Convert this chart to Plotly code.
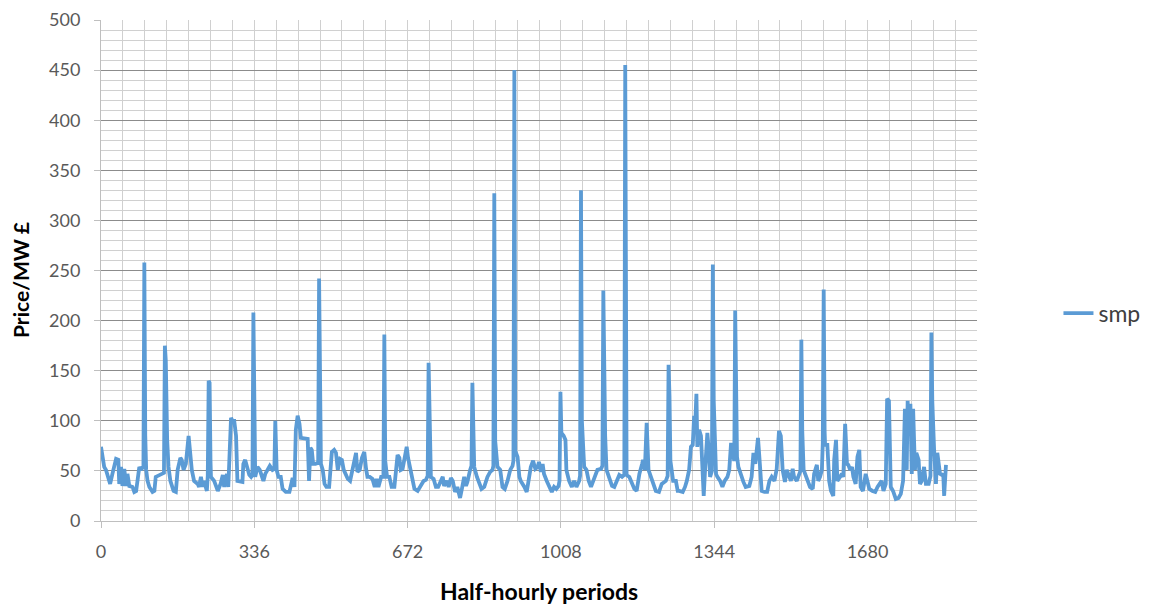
import plotly.graph_objects as go

# Half-hourly period index (breakpoints)
periods = [0,4,7,11,16,20,25,29,33,38,40,44,47,51,55,58,62,69,73,77,80,84,88,91,93,95,97,99,102,106,113,117,120,128,135,138,140,142,145,148,152,159,164,168,174,177,181,186,192,195,199,204,212,215,219,223,226,232,234,236,238,240,241,248,252,256,262,267,270,276,279,282,285,288,292,296,299,310,
312,316,321,325,329,332,334,336,338,343,348,353,356,360,365,370,376,380,382,384,385,389,394,398,405,413,416,420,424,427,431,435,438,446,453,456,459,462,465,470,476,478,480,482,486,490,494,500,506,511,515,519,524,528,532,537,541,546,551,555,559,562,567,572,577,581,584,589,595,600,604,608,614,619,621,623,627,632,637,643,646,650,654,657,661,666,670,673,678,683,687,694,701,707,712,716,718,720,723,729,734,739,744,749,752,758,762,767,771,776,781,787,791,796,800,803,809,812,814,816,818,824,829,834,840,847,853,858,860,862,864,869,875,880,885,891,897,902,904,906,908,913,917,920,928,933,936,942,946,947,952,957,960,964,968,971,977,982,988,993,998,1003,1005,1007,1009,1014,1018,1020,1026,1032,1037,1042,1048,1050,1052,1054,1059,1064,1069,1074,1081,1088,1096,1099,1101,1103,1105,1108,1114,1120,1125,1130,1136,1142,1147,1149,1151,1152,1158,1164,1169,1174,1180,1186,1188,1192,1196,1200,1205,1210,1216,1223,1229,1238,1242,1244,1246,1248,1254,1260,1264,1267,1275,1280,1284,1289,1293,1297,1300,1302,1305,1307,1311,1315,1318,1321,1324,1327,1329,1332,1335,1339,1341,1343,1346,1348,1351,1357,1362,1367,1373,1377,1381,1384,1388,1390,1392,1394,1397,1403,1408,1413,1421,1426,1430,1434,1438,1440,1445,1448,1454,1460,1465,1470,1476,1481,1486,1490,1494,1499,1503,1508,1512,1516,1519,1525,1530,1533,1535,1537,1540,1545,1550,1554,1560,1563,1569,1572,1576,1580,1582,1584,1586,1587,1592,1596,1600,1605,1607,1611,1614,1619,1624,1627,1631,1635,1638,1642,1646,1649,1654,1658,1662,1665,1670,1676,1680,1684,1691,1697,1702,1707,1711,1715,1720,1723,1727,1731,1736,1742,1748,1753,1758,1762,1766,1768,1771,1774,1777,1780,1784,1787,1792,1795,1799,1804,1808,1814,1818,1820,1822,1826,1830,1833,1839,1843,1846,1848,1850,1852]

# System marginal price (£/MW)
smp = [74,61,54,51,44,37,47,54,62,61,37,54,35,52,35,47,35,34,29,30,44,54,51,54,52,258,85,51,40,34,29,30,44,46,47,48,175,160,81,54,40,30,29,51,63,61,51,57,85,71,51,40,37,34,44,34,40,30,45,140,138,60,44,40,34,30,37,46,34,47,34,61,103,100,100,85,40,39,
57,61,51,46,44,46,208,60,44,54,51,44,40,47,52,55,51,52,100,60,51,44,44,32,29,29,34,43,34,91,105,97,83,82,82,40,73,71,57,57,58,242,90,57,51,37,34,34,69,71,68,51,62,61,51,47,42,40,51,63,68,49,51,63,69,52,44,44,42,34,42,34,44,44,186,60,44,44,34,34,51,66,63,51,52,63,74,63,51,40,32,30,35,40,41,45,158,110,44,42,34,34,39,44,35,40,34,43,40,29,34,23,32,44,35,39,51,55,138,90,54,44,37,32,34,44,49,51,55,327,80,54,51,34,32,40,51,55,60,450,70,64,44,40,34,29,37,54,59,60,52,54,59,49,57,47,40,34,29,34,32,35,40,129,88,85,81,51,40,34,40,34,40,45,330,100,54,51,40,34,44,51,52,55,230,120,85,51,44,35,34,40,46,44,46,455,90,46,44,37,32,30,47,57,61,51,98,51,44,37,30,29,37,40,45,156,125,60,40,40,30,30,29,34,40,51,74,76,105,91,127,74,91,85,44,25,51,71,88,71,44,50,256,120,68,47,44,40,34,40,44,51,78,71,60,210,100,64,54,44,39,34,35,44,68,57,81,83,51,30,29,29,40,44,40,52,90,85,51,39,51,44,40,52,44,40,47,50,181,90,51,44,40,34,32,47,56,40,44,51,78,231,90,76,76,40,30,25,61,81,40,44,47,44,97,57,56,51,54,44,37,64,71,34,30,47,37,32,30,29,34,37,40,30,37,122,120,34,30,22,23,27,40,112,51,120,85,117,47,112,51,68,61,37,40,54,37,37,45,188,120,71,37,68,47,46,47,25,54,56]

x_ticks = [0, 336, 672, 1008, 1344, 1680]
series_name = "smp"
y_title = "Price/MW £"
x_title = "Half-hourly periods"

fig = go.Figure()
fig.add_trace(go.Scatter(
    x=periods, y=smp, mode="lines", name=series_name,
    line=dict(color="#5B9BD5", width=3.8, shape="linear"),
    showlegend=True,
))

font_family = "Lato, Carlito, Calibri, sans-serif"

# The page body adds an 8px offset, so the figure is 8px smaller and margins shifted.
fig.update_layout(
    width=1145, height=599,
    margin=dict(l=93, r=176, t=12, b=86, autoexpand=False),
    paper_bgcolor="white", plot_bgcolor="white",
    font=dict(family=font_family, color="#595959", size=18),
    showlegend=True,
    legend=dict(x=1.093, y=0.415, xanchor="left", yanchor="middle",
                font=dict(size=23, color="#404040"), bgcolor="rgba(0,0,0,0)"),
    xaxis=dict(
        range=[0, 1920], tickvals=x_ticks, ticktext=[str(t) for t in x_ticks],
        showgrid=True, gridcolor="#d0d0d0", gridwidth=1,
        minor=dict(dtick=48, tick0=0, showgrid=True, gridcolor="#d0d0d0", gridwidth=1, ticks=""),
        showline=True, linecolor="#bfbfbf", linewidth=1,
        ticks="outside", ticklen=6, tickcolor="#bfbfbf",
        ticklabelstandoff=8, automargin=False,
        zeroline=False,
        tickfont=dict(size=18, color="#595959"),
    ),
    yaxis=dict(
        range=[0, 500], dtick=50, tick0=0,
        showgrid=True, gridcolor="#8c8c8c", gridwidth=1,
        minor=dict(dtick=10, showgrid=True, gridcolor="#d0d0d0", gridwidth=1, ticks=""),
        showline=True, linecolor="#bfbfbf", linewidth=1,
        ticks="outside", ticklen=6, tickcolor="#bfbfbf",
        ticklabelstandoff=10, automargin=False,
        zeroline=False,
        tickfont=dict(size=18, color="#595959"),
    ),
    annotations=[
        dict(text="<b>" + x_title + "</b>", xref="paper", yref="paper", x=0.5, y=-0.1397,
             xanchor="center", yanchor="middle", showarrow=False,
             font=dict(size=23, color="#000000", family=font_family)),
        dict(text="<b>" + y_title + "</b>", xref="paper", yref="paper", x=-0.0925, y=0.481,
             xanchor="center", yanchor="middle", showarrow=False, textangle=-90,
             font=dict(size=21, color="#000000", family=font_family)),
    ],
)

fig.write_html("out.html")
